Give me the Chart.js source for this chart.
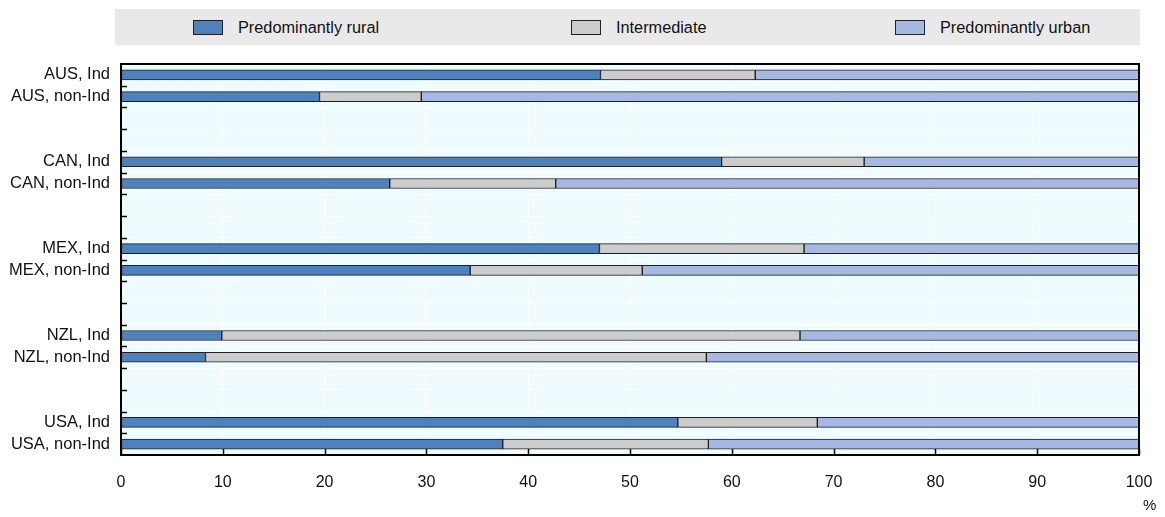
<!DOCTYPE html>
<html>
<head>
<meta charset="utf-8">
<script src="https://cdn.jsdelivr.net/npm/chart.js@4"></script>
<style>
  body { margin: 0; background: #fff; font-family: "Liberation Sans", Arial, sans-serif; }
  #wrap { position: relative; width: 1165px; height: 517px; }
  #legend { position: absolute; left: 115px; top: 9px; width: 1025px; height: 36px; background: #e9e9e9; }
  .item { position: absolute; top: 0; height: 36px; display: flex; align-items: center; font-size: 16.3px; color: #111; }
  .swatch { width: 28px; height: 13px; border: 1.5px solid #222; margin-right: 15px; }
  #unit { position: absolute; left: 1143px; top: 496px; font-size: 15px; color: #111; }
</style>
</head>
<body>
<div id="wrap">
  <canvas id="chart" width="1165" height="517"></canvas>
  <div id="legend"></div>
  <div id="unit">%</div>
</div>
<script>
const categories = [
  "AUS, Ind", "AUS, non-Ind", "", "",
  "CAN, Ind", "CAN, non-Ind", "", "",
  "MEX, Ind", "MEX, non-Ind", "", "",
  "NZL, Ind", "NZL, non-Ind", "", "",
  "USA, Ind", "USA, non-Ind"
];
const rural = [47.1, 19.5, null, null, 59.0, 26.4, null, null, 47.0, 34.3, null, null, 9.9, 8.3, null, null, 54.7, 37.5];
const intermediate = [15.2, 10.0, null, null, 14.0, 16.3, null, null, 20.1, 16.9, null, null, 56.8, 49.2, null, null, 13.7, 20.2];
const urban = [37.7, 70.5, null, null, 27.0, 57.3, null, null, 32.9, 48.8, null, null, 33.3, 42.5, null, null, 31.6, 42.3];
const seriesNames = ["Predominantly rural", "Intermediate", "Predominantly urban"];
const xTicks = [0, 10, 20, 30, 40, 50, 60, 70, 80, 90, 100];

const colors = ["#4f81bd", "#cccccc", "#a7b9e3"];

// legend drawn as html, positions
const legendLeft = [78, 456, 780];
const legend = document.getElementById("legend");
seriesNames.forEach((name, i) => {
  const el = document.createElement("div");
  el.className = "item";
  el.style.left = legendLeft[i] + "px";
  el.innerHTML = `<span class="swatch" style="background:${colors[i]}"></span>${name}`;
  legend.appendChild(el);
});

const frame = {
  id: "frame",
  beforeDraw(chart) {
    const { ctx, chartArea: a } = chart;
    ctx.save();
    ctx.fillStyle = "#effcff";
    ctx.fillRect(a.left, a.top, a.right - a.left, a.bottom - a.top);
    ctx.restore();
  },
  afterDraw(chart) {
    const { ctx, chartArea: a, scales } = chart;
    ctx.save();
    ctx.strokeStyle = "#000";
    ctx.lineWidth = 2;
    ctx.strokeRect(a.left, a.top, a.right - a.left, a.bottom - a.top);
    // small inward ticks
    ctx.lineWidth = 1.5;
    ctx.beginPath();
    xTicks.forEach(v => {
      const x = Math.round(scales.x.getPixelForValue(v)) + 0.5;
      ctx.moveTo(x, a.bottom);
      ctx.lineTo(x, a.bottom - 6);
    });
    const step = (a.bottom - a.top) / categories.length;
    for (let i = 1; i < categories.length; i++) {
      const y = Math.round(a.top + i * step) + 0.5;
      ctx.moveTo(a.left, y);
      ctx.lineTo(a.left + 6, y);
    }
    ctx.stroke();
    ctx.restore();
  }
};

const makeSet = (label, data, i) => ({
  label, data,
  backgroundColor: colors[i],
  borderColor: "#1e1e1e",
  borderWidth: 1,
  borderSkipped: false,
  barThickness: 10
});

new Chart(document.getElementById("chart"), {
  type: "bar",
  data: {
    labels: categories,
    datasets: [
      makeSet(seriesNames[0], rural, 0),
      makeSet(seriesNames[1], intermediate, 1),
      makeSet(seriesNames[2], urban, 2)
    ]
  },
  options: {
    indexAxis: "y",
    responsive: false,
    animation: false,
    layout: { padding: { top: 64, right: 26, left: 0, bottom: 0 } },
    plugins: { legend: { display: false }, tooltip: { enabled: false } },
    scales: {
      x: {
        stacked: true, min: 0, max: 100,
        afterBuildTicks: s => { s.ticks = xTicks.map(v => ({ value: v })); },
        afterFit: s => { s.height = 62; },
        grid: { color: "#ffffff", lineWidth: 1, drawTicks: true, tickLength: 15, tickColor: "rgba(0,0,0,0)" },
        border: { display: false },
        ticks: { padding: 3, color: "#111", font: { family: "Liberation Sans", size: 16 } }
      },
      y: {
        stacked: true,
        afterFit: s => { s.width = 121; },
        grid: { color: "#ffffff", lineWidth: 1, drawTicks: false, offset: true },
        border: { display: false },
        ticks: { padding: 11, color: "#111", autoSkip: false, font: { family: "Liberation Sans", size: 16.5 } }
      }
    }
  },
  plugins: [frame]
});
</script>
</body>
</html>
